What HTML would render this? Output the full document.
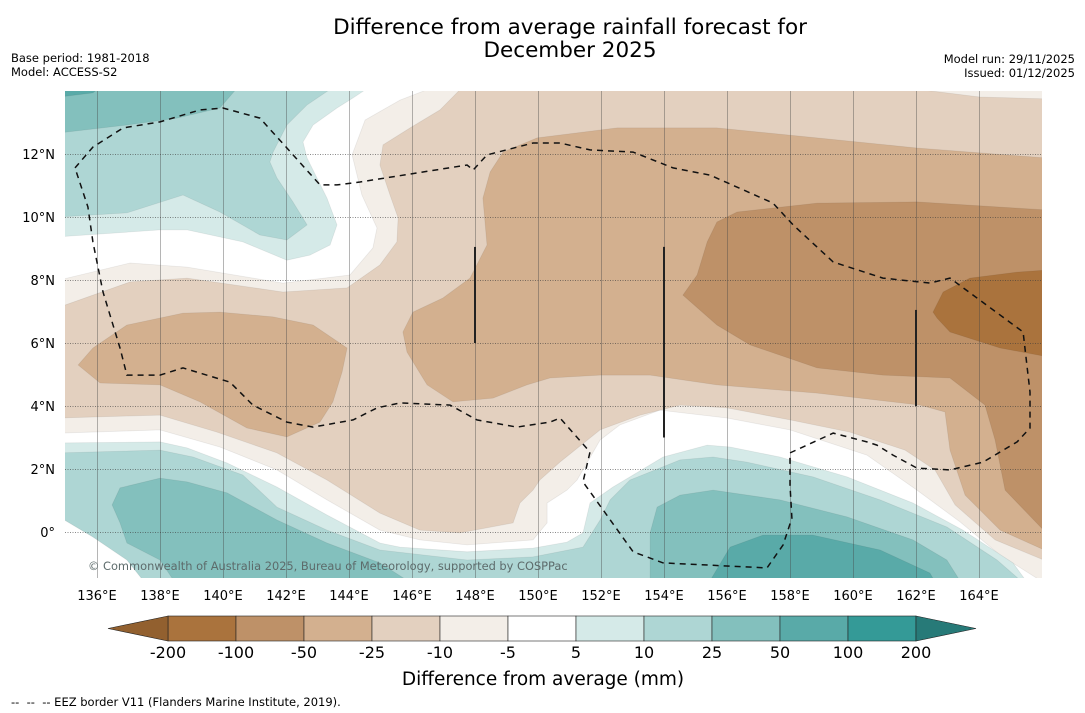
<!DOCTYPE html>
<html><head><meta charset="utf-8"><style>
body{margin:0;background:#fff;width:1085px;height:713px;overflow:hidden;font-family:"Liberation Sans","DejaVu Sans",sans-serif}
svg{display:block}
</style></head><body>
<svg id="chart" width="1085" height="713" xmlns="http://www.w3.org/2000/svg" font-family="'DejaVu Sans','Liberation Sans',sans-serif">
<text x="570" y="34" font-size="21.5" text-anchor="middle">Difference from average rainfall forecast for</text>
<text x="570" y="57" font-size="21.5" text-anchor="middle">December 2025</text>
<text x="11" y="62" font-size="11.5">Base period: 1981-2018</text>
<text x="11" y="76" font-size="11.5">Model: ACCESS-S2</text>
<text x="1075" y="63" font-size="11.5" text-anchor="end">Model run: 29/11/2025</text>
<text x="1075" y="77" font-size="11.5" text-anchor="end">Issued: 01/12/2025</text>
<defs><clipPath id="mapclip"><rect x="65" y="91" width="977" height="487"/></clipPath></defs>
<g id="map" clip-path="url(#mapclip)"><rect x="65" y="91" width="977" height="487" fill="#fff"/></g>
<g id="axes"></g>
<g id="cbar"></g>
<text x="543" y="685" font-size="18.5" text-anchor="middle">Difference from average (mm)</text>
<text x="11" y="706" font-size="11.5" xml:space="preserve" style="white-space:pre">--  --  -- EEZ border V11 (Flanders Marine Institute, 2019).</text>
</svg>
<script>
const lonTicks=[136,138,140,142,144,146,148,150,152,154,156,158,160,162,164];
const latTicks=[0,2,4,6,8,10,12];
const cbLevels=[-200,-100,-50,-25,-10,-5,5,10,25,50,100,200];
const cbColors=["#aa733d","#be9168","#d3b08f","#e3d0bf","#f3eee8","#ffffff","#d5eae8","#aed6d4","#83c0bd","#59aaa8","#349a97"];
const dry5=[[146.89,14.2],[166.2,14.2],[166.2,-1.7],[164.67,-0.73],[163.40,0.32],[162.03,1.33],[160.44,2.44],[158.0,3.24],[156.0,3.62],[153.87,3.87],[152.60,3.40],[151.97,2.92],[151.24,1.65],[150.92,1.33],[150.29,0.92],[150.29,0.29],[149.84,-0.25],[147.75,-0.41],[146.25,-0.25],[144.98,0.06],[143.30,1.02],[141.71,1.97],[139.90,2.70],[138.0,3.24],[134.8,3.14],[134.8,8.0],[137.05,8.54],[138.86,8.41],[141.90,7.90],[144.03,8.16],[144.76,9.02],[144.89,9.65],[144.41,10.70],[144.10,11.97],[144.51,13.08],[145.62,13.71]];
const dry10=[[134.8,7.14],[137.05,7.94],[138.86,8.06],[141.90,7.62],[143.94,7.75],[144.98,8.48],[145.52,9.21],[145.56,9.97],[145.30,10.70],[144.98,11.65],[145.08,12.29],[145.94,12.83],[146.89,13.40],[147.68,14.2],[160.86,14.2],[164.03,13.81],[166.2,13.75],[166.2,-0.95],[164.51,-0.25],[163.24,0.86],[162.60,1.97],[161.65,2.60],[159.90,3.17],[158.0,3.56],[156.0,3.94],[154.51,4.03],[153.24,3.71],[151.97,3.24],[150.70,2.22],[150.06,1.65],[149.84,1.33],[149.43,0.92],[149.21,0.29],[147.52,-0.03],[146.25,0.06],[144.98,0.60],[143.30,1.65],[141.71,2.51],[139.81,3.17],[138.0,3.71],[134.8,3.62]];
const dry25a=[[135.40,5.30],[135.87,5.84],[136.95,6.57],[138.73,6.95],[139.90,6.98],[141.59,6.83],[142.86,6.57],[143.94,5.84],[143.78,5.08],[143.49,4.13],[143.08,3.49],[142.03,3.02],[140.76,3.30],[139.27,4.13],[138.0,4.67],[136.10,4.73]];
const dry25b=[[145.71,6.35],[146.03,6.98],[146.98,7.43],[147.84,8.06],[148.38,9.11],[148.25,10.60],[148.48,11.43],[148.89,12.06],[149.97,12.51],[152.51,12.83],[155.68,12.83],[158.86,12.51],[162.03,12.19],[166.2,11.87],[166.2,-0.63],[164.67,0.06],[163.56,1.17],[163.08,2.60],[162.92,3.81],[162.13,4.03],[158.86,4.41],[155.68,4.67],[153.56,4.98],[151.97,4.98],[150.38,4.89],[149.65,4.67],[148.57,4.25],[147.30,4.13],[146.48,4.67],[145.84,5.71]];
const dry50=[[154.60,7.52],[155.05,8.16],[155.37,9.21],[155.68,9.84],[156.32,10.16],[158.86,10.44],[162.03,10.48],[166.2,10.22],[166.2,-0.10],[164.83,1.33],[164.51,2.92],[164.19,4.03],[163.08,4.89],[160.95,4.98],[158.86,5.21],[156.73,5.94],[155.68,6.57]];
const dry100=[[162.54,6.98],[162.86,7.62],[163.71,8.06],[165.21,8.25],[166.2,8.32],[166.2,5.56],[164.67,5.84],[163.08,6.35],[162.67,6.79]];
const wet5a=[[134.8,14.2],[144.76,14.2],[144.13,13.78],[143.62,13.46],[142.86,12.92],[142.54,12.38],[142.67,11.87],[143.30,10.60],[143.62,9.75],[143.40,9.11],[142.76,8.79],[142.03,8.63],[140.63,9.21],[138.86,9.59],[138.0,9.59],[134.8,9.37]];
const wet10a=[[134.8,14.2],[143.62,14.2],[142.67,13.56],[142.03,12.92],[141.59,12.06],[141.49,11.75],[141.71,11.24],[142.22,10.48],[142.67,9.75],[142.03,9.27],[141.17,9.43],[139.90,10.16],[138.73,10.70],[136.95,10.13],[134.8,10.0]];
const wet25a=[[134.8,14.2],[140.54,14.2],[139.90,13.46],[138.54,13.14],[136.95,12.92],[134.8,12.67]];
const wet50a=[[134.8,14.2],[136.19,14.2],[135.87,13.94],[134.8,13.81]];
const wet5b=[[134.8,2.83],[138.0,2.86],[138.86,2.67],[140.13,2.19],[141.71,1.43],[143.30,0.54],[144.98,-0.35],[145.62,-0.48],[147.75,-0.63],[149.84,-0.51],[150.92,-0.32],[151.43,-0.03],[151.65,0.92],[152.38,1.43],[153.97,2.38],[155.37,2.76],[156.10,2.70],[157.68,2.38],[159.81,1.75],[161.90,0.92],[163.49,0.06],[165.08,-0.98],[165.6,-1.7],[138.0,-1.7],[137.78,-1.21],[136.95,-0.57],[135.87,0.06],[134.8,0.60]];
const wet10b=[[134.8,2.51],[138.0,2.60],[139.05,2.38],[140.63,1.81],[141.71,0.79],[143.30,0.06],[144.98,-0.57],[147.75,-0.89],[149.84,-0.79],[151.43,-0.48],[151.97,0.38],[152.29,1.02],[152.92,1.65],[154.51,2.29],[155.56,2.38],[156.63,2.22],[158.73,1.75],[160.86,1.02],[162.98,0.16],[164.57,-0.89],[165.5,-1.7],[137.59,-1.7],[136.95,-0.89],[135.87,-0.16],[134.8,0.48]];
const wet25b=[[136.48,0.86],[136.73,1.40],[138.0,1.71],[138.86,1.59],[140.13,1.24],[141.71,0.38],[143.30,-0.35],[144.98,-0.98],[146.1,-1.7],[138.54,-1.7],[138.0,-0.89],[136.95,-0.35],[136.73,0.29]];
const wet25c=[[153.56,-1.7],[153.56,-0.03],[153.78,0.79],[154.51,1.17],[155.56,1.33],[157.68,1.02],[159.81,0.48],[161.90,-0.25],[162.98,-0.89],[163.49,-1.7]];
const wet50b=[[155.37,-1.7],[156.10,-0.48],[157.14,-0.10],[158.73,-0.10],[160.86,-0.57],[162.44,-1.30],[162.67,-1.7]];
const eez=[[135.30,11.56],[135.87,12.22],[136.83,12.83],[138.0,13.02],[139.27,13.40],[140.0,13.46],[141.17,13.14],[142.03,12.19],[143.08,11.02],[143.62,11.02],[144.35,11.11],[147.75,11.65],[147.94,11.49],[148.38,11.97],[149.84,12.35],[150.70,12.35],[151.65,12.13],[153.02,12.06],[154.29,11.56],[155.46,11.33],[157.46,10.44],[158.10,9.75],[159.37,8.57],[160.95,8.06],[162.44,7.90],[163.08,8.06],[165.40,6.35],[165.62,4.44],[165.62,3.30],[165.21,2.86],[164.13,2.22],[163.08,1.97],[162.03,2.03],[161.27,2.44],[160.76,2.76],[160.44,2.86],[159.37,3.14],[158.0,2.51],[158.0,1.49],[158.06,0.44],[157.78,-0.41],[157.27,-1.14],[153.97,-0.98],[153.02,-0.63],[151.43,1.59],[151.65,2.54],[150.70,3.62],[150.38,3.49],[149.33,3.33],[148.06,3.56],[147.21,4.03],[145.62,4.10],[144.89,3.94],[144.13,3.56],[142.86,3.33],[142.03,3.49],[140.95,4.03],[140.22,4.76],[138.73,5.21],[138.0,4.98],[136.95,4.98],[136.73,5.84],[136.19,7.62],[135.87,9.21],[135.71,10.32],[135.30,11.56]];
const segLons=[148,154,162];
const segLat1=[9.05,9.05,7.05];
const segLat2=[6.0,3.0,4.0];

const NS="http://www.w3.org/2000/svg";
function X(lon){return 65.5+(lon-135)*31.5;}
function Y(lat){return 91+(14-lat)*31.5;}
function mk(tag,attrs,parent){const e=document.createElementNS(NS,tag);for(const k in attrs)e.setAttribute(k,attrs[k]);parent.appendChild(e);return e;}
const map=document.getElementById('map');
function poly(pts,fill,name){
  const e=mk('polygon',{points:pts.map(p=>X(p[0]).toFixed(1)+','+Y(p[1]).toFixed(1)).join(' '),fill:fill,stroke:'rgba(0,0,0,0.07)','stroke-width':'0.8'},map);
  
  
}
poly(dry5,cbColors[4],'band-below-minus5');
poly(dry10,cbColors[3],'band-below-minus10');
poly(dry25a,cbColors[2],'band-below-minus25-west');
poly(dry25b,cbColors[2],'band-below-minus25-east');
poly(dry50,cbColors[1],'band-below-minus50');
poly(dry100,cbColors[0],'band-below-minus100');
poly(wet5a,cbColors[6],'band-above-5-north');
poly(wet10a,cbColors[7],'band-above-10-north');
poly(wet25a,cbColors[8],'band-above-25-north');
poly(wet50a,cbColors[9],'band-above-50-north');
poly(wet5b,cbColors[6],'band-above-5-south');
poly(wet10b,cbColors[7],'band-above-10-south');
poly(wet25b,cbColors[8],'band-above-25-southwest');
poly(wet25c,cbColors[8],'band-above-25-southeast');
poly(wet50b,cbColors[9],'band-above-50-south');
// gridlines
lonTicks.forEach(l=>{const gx=Math.round(X(l))+0.5;const e=mk('line',{x1:gx,x2:gx,y1:91,y2:578,stroke:'rgba(70,70,70,0.4)','stroke-width':'1'},map);

});
latTicks.forEach(l=>{const gy=Math.round(Y(l))+0.5;const e=mk('line',{x1:65,x2:1042,y1:gy,y2:gy,stroke:'rgba(60,60,60,0.6)','stroke-width':'1','stroke-dasharray':'1,1.5'},map);

});
// EEZ
const ez=mk('polyline',{points:eez.map(p=>X(p[0]).toFixed(1)+','+Y(p[1]).toFixed(1)).join(' '),fill:'none',stroke:'#111','stroke-width':'1.5','stroke-dasharray':'6,5'},map);


segLons.forEach((l,i)=>{const e=mk('line',{x1:X(l),x2:X(l),y1:Y(segLat1[i]),y2:Y(segLat2[i]),stroke:'#222','stroke-width':'2'},map);

});
const cp=mk('text',{x:88,y:570,'font-size':'11.4',fill:'#5d6b6b'},map);cp.textContent='© Commonwealth of Australia 2025, Bureau of Meteorology, supported by COSPPac';


// axis labels
const ax=document.getElementById('axes');
lonTicks.forEach(l=>{const t=mk('text',{x:X(l),y:600,'font-size':'13','text-anchor':'middle'},ax);t.textContent=l+'°E';

});
latTicks.forEach(l=>{const t=mk('text',{x:55,y:Y(l)+5,'font-size':'13','text-anchor':'end'},ax);t.textContent=l===0?'0°':l+'°N';

});
// colorbar
const cb=document.getElementById('cbar');
const cbX0=168,cbW=68,cbY=616,cbH=25;
cbColors.forEach((c,i)=>{const r=mk('rect',{x:cbX0+i*cbW,y:cbY,width:cbW,height:cbH,fill:c,stroke:'#222','stroke-width':'0.6'},cb);

});
const lt=mk('polygon',{points:`${cbX0},${cbY} ${cbX0-60},${cbY+cbH/2} ${cbX0},${cbY+cbH}`,fill:'#92602f',stroke:'#222','stroke-width':'0.6'},cb);


const xe=cbX0+cbColors.length*cbW;
const rt=mk('polygon',{points:`${xe},${cbY} ${xe+60},${cbY+cbH/2} ${xe},${cbY+cbH}`,fill:'#277a78',stroke:'#222','stroke-width':'0.6'},cb);


cbLevels.forEach((v,i)=>{const t=mk('text',{x:cbX0+i*cbW,y:658,'font-size':'16','text-anchor':'middle'},cb);t.textContent=v;

});
</script>
</body></html>
